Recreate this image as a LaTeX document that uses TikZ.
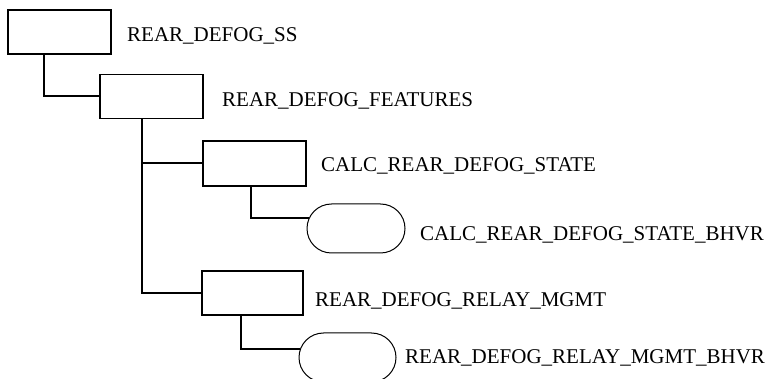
\documentclass[tikz,border=0pt]{standalone}
\usepackage{fontspec}
\setmainfont{Liberation Serif}
\usetikzlibrary{shapes.misc,calc}

\begin{document}
\begin{tikzpicture}
[x=1pt, y=-1pt, font=\fontsize{21}{25}\selectfont,
box/.style={draw, line width=1.8pt, minimum width=103pt, minimum height=44pt, inner sep=0pt},
bhvr/.style={draw, rounded rectangle, line width=1pt, minimum width=98pt, minimum height=49pt, inner sep=0pt},
blocktext/.style={anchor=base west, inner sep=0pt},
link/.style={line width=2pt}]
\useasboundingbox (0,0) rectangle (774,379);
% blocks
\node[box] (ss) at (59.5,32) {};
\node[box] (features) at (151.5,96.5) {};
\node[box, minimum height=45pt] (calcstate) at (254.5,163.5) {};
\node[bhvr] (calcbhvr) at (356,228.5) {};
\node[box, minimum width=101pt] (relaymgmt) at (252.5,293) {};
\node[bhvr, minimum width=97pt] (relaybhvr) at (347.5,357.5) {};
% names
\node[blocktext] (ss-t) at (127,42) {REAR\_DEFOG\_SS};
\node[blocktext] (features-t) at (222,107) {REAR\_DEFOG\_FEATURES};
\node[blocktext] (calcstate-t) at (321,172) {CALC\_REAR\_DEFOG\_STATE};
\node[blocktext] (calcbhvr-t) at (420,241) {CALC\_REAR\_DEFOG\_STATE\_BHVR};
\node[blocktext] (relaymgmt-t) at (315,307) {REAR\_DEFOG\_RELAY\_MGMT};
\node[blocktext] (relaybhvr-t) at (405,363) {REAR\_DEFOG\_RELAY\_MGMT\_BHVR};
% tree lines
\draw[link] ([xshift=37pt]ss.south west) |- (features.west);
\draw[link] ([xshift=43pt]features.south west) |- (relaymgmt.west);
\draw[link] ([xshift=43pt]features.south west) |- (calcstate.west);
\draw[link] ([xshift=49pt]calcstate.south west) |- ([shift={(2pt,10pt)}]calcbhvr.west);
\draw[link] ([xshift=40pt]relaymgmt.south west) |- ([shift={(1.5pt,8.5pt)}]relaybhvr.west);
\end{tikzpicture}
\end{document}
